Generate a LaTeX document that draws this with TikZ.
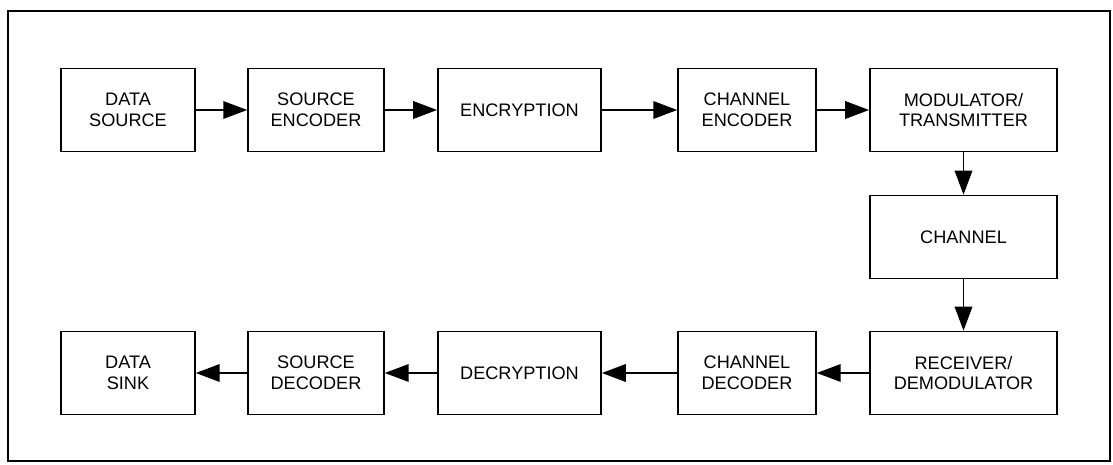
\documentclass[tikz,border=0pt]{standalone}
\usepackage{fontspec}
\setmainfont{Liberation Sans}
\usetikzlibrary{arrows.meta}
\tikzset{
every picture/.style={
line width=1.1pt
}}

\begin{document}
\begin{tikzpicture}[x=0.025cm, y=-0.025cm,
block/.style = {rectangle, draw=black, align=center, minimum height=2.08cm, inner sep=2pt, font=\fontsize{12.9}{14.8}\selectfont},
flow/.style = {-{Triangle[length=17pt, width=12.5pt]}}]

\useasboundingbox (0,0) rectangle (1113,465);
\draw (8,11) rectangle (1110,461);

% transmit side
\node[block, minimum width=3.35cm] (dsrc) at (128,110) {DATA\\SOURCE};
\node[block, minimum width=3.4cm] (senc) at (316,110) {SOURCE\\ENCODER};
\node[block, minimum width=4.08cm] (encr) at (519.5,110) {ENCRYPTION};
\node[block, minimum width=3.45cm] (cenc) at (747,110) {CHANNEL\\ENCODER};
\node[block, minimum width=4.68cm] (modt) at (963.5,110) {MODULATOR/\\TRANSMITTER};

\node[block, minimum width=4.68cm] (chan) at (963.5,237) {CHANNEL};

% receive side
\node[block, minimum width=4.68cm] (rcvr) at (963.5,373) {RECEIVER/\\DEMODULATOR};
\node[block, minimum width=3.45cm] (cdec) at (747,373) {CHANNEL\\DECODER};
\node[block, minimum width=4.08cm] (decr) at (519.5,373) {DECRYPTION};
\node[block, minimum width=3.4cm] (sdec) at (316,373) {SOURCE\\DECODER};
\node[block, minimum width=3.35cm] (dsnk) at (128,373) {DATA\\SINK};

\draw [flow] (dsrc) -- (senc);
\draw [flow] (senc) -- (encr);
\draw [flow] (encr) -- (cenc);
\draw [flow] (cenc) -- (modt);
\draw [flow] (modt) -- (chan);
\draw [flow] (chan) -- (rcvr);
\draw [flow] (rcvr) -- (cdec);
\draw [flow] (cdec) -- (decr);
\draw [flow] (decr) -- (sdec);
\draw [flow] (sdec) -- (dsnk);
\end{tikzpicture}
\end{document}
